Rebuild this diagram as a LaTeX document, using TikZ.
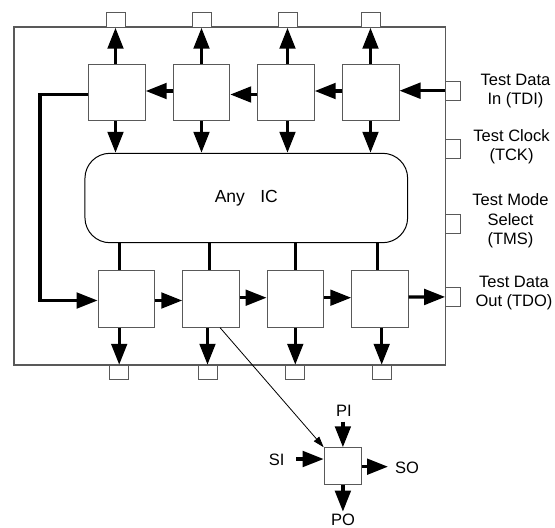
\documentclass[tikz,border=0pt]{standalone}
\usepackage{fontspec}
\setmainfont{Liberation Sans}
\usetikzlibrary{arrows.meta,calc}
\tikzset{
  cell/.style={draw=black!65, line width=0.9pt, fill=white, minimum width=56.5pt, minimum height=56.3pt, inner sep=0pt},
  pinh/.style={draw=black!65, line width=0.9pt, fill=white, minimum width=19pt, minimum height=14.5pt, inner sep=0pt},
  pinv/.style={draw=black!65, line width=0.9pt, fill=white, minimum width=14.5pt, minimum height=19pt, inner sep=0pt},
  arr/.style={line width=3.4pt, -{Triangle[length=21pt,width=15.5pt]}},
  thk/.style={line width=3.4pt},
  lbl/.style={align=center, font=\fontsize{16.5pt}{19.5pt}\selectfont, inner sep=0pt},
}
\begin{document}
\begin{tikzpicture}[x=1pt,y=-1pt]
\useasboundingbox (0,0) rectangle (555,528);
% outer chip
\draw[draw=black!65, line width=1.1pt] (14,27) rectangle (445.7,365);
% pins top
\node[pinh] (p1) at (115.5,20) {};
\node[pinh] (p2) at (201.5,20) {};
\node[pinh] (p3) at (287.5,20) {};
\node[pinh] (p4) at (370.5,20) {};
% pins bottom
\node[pinh] (q1) at (119.2,372.5) {};
\node[pinh] (q2) at (207.5,372.5) {};
\node[pinh] (q3) at (295.3,372.5) {};
\node[pinh] (q4) at (381.7,372.5) {};
% pins right
\node[pinv] (tdi) at (452.9,90.7) {};
\node[pinv] (tck) at (452.9,148.8) {};
\node[pinv] (tms) at (452.9,224.2) {};
\node[pinv] (tdo) at (452.9,296.9) {};
% top cells
\node[cell] (t1) at (117,92.5) {};
\node[cell] (t2) at (201.5,92.5) {};
\node[cell] (t3) at (286,92.5) {};
\node[cell] (t4) at (370.8,92.5) {};
% bottom cells
\node[cell] (b1) at (126.3,299) {};
\node[cell] (b2) at (211,299) {};
\node[cell] (b3) at (295.3,299) {};
\node[cell] (b4) at (380,299) {};
% IC
\node[draw=black, line width=1pt, rounded corners=25pt, minimum width=322.7pt, minimum height=89.4pt, inner sep=0pt, font=\fontsize{17.5pt}{20pt}\selectfont] (ic) at (246.3,198) {Any\hspace{0.6em} IC};
% top arrows up and down
\foreach \i in {1,2,3,4}{
  \draw[arr] (p\i.south |- t\i.north) -- (p\i.south);
  \draw[arr] (p\i.south |- t\i.south) -- (p\i.south |- ic.north);
}
% top chain (right to left)
\draw[arr] (tdi.west) -- (tdi.west -| t4.east);
\draw[arr] ($(t4.west)+(0,-1.5)$) -- ($(t3.east)+(0,-1.5)$);
\draw[arr] ($(t3.west)+(0,2)$) -- ($(t2.east)+(0,2)$);
\draw[arr] ($(t2.west)+(0,-1.5)$) -- ($(t1.east)+(0,-1.5)$);
% loop from t1 to b1
\coordinate (c1) at (40,94.7);
\coordinate (c2) at (40,300.5);
\draw[arr] ($(t1.west)+(0,2.2)$) -- (c1) -- (c2) -- (c2 -| b1.west);
% IC to bottom cells
\draw[thk] (119.3,0 |- ic.south) -- (119.3,0 |- b1.north);
\draw[thk] (209.3,0 |- ic.south) -- (209.3,0 |- b2.north);
\draw[thk] (295.7,0 |- ic.south) -- (295.7,0 |- b3.north);
\draw[thk] (377.7,0 |- ic.south) -- (377.7,0 |- b4.north);
% bottom down arrows
\foreach \i in {1,2,3,4}{
  \draw[arr] (q\i.north |- b\i.south) -- (q\i.north);
}
% bottom chain
\draw[arr] ($(b1.east)+(0,1.5)$) -- ($(b2.west)+(0,1.5)$);
\draw[arr] ($(b2.east)+(0,-1.3)$) -- ($(b3.west)+(0,-1.3)$);
\draw[arr] ($(b3.east)+(0,-1.3)$) -- ($(b4.west)+(0,-1.3)$);
\draw[arr] ($(b4.east)+(0,-2)$) -- ($(tdo.west)+(0,0)$);
% labels right
\node[lbl] (ltdi) at (515.5,91) {Test Data\\In (TDI)};
\node[lbl] (ltck) at (511.5,146.5) {Test Clock\\(TCK)};
\node[lbl] (ltms) at (510.5,221) {Test Mode\\Select\\(TMS)};
\node[lbl] (ltdo) at (514,293) {Test Data\\Out (TDO)};
% detail cell
\node[cell, minimum width=37.5pt, minimum height=36.6pt] (c) at (342.9,466) {};
\coordinate (d0) at ($(b2.south)+(9,0)$);
\draw[line width=0.8pt, -{Triangle[length=11pt,width=7pt]}] (d0) -- (c.north west);
\node[lbl] (lpi) at (344,411) {PI};
\node[lbl] (lsi) at (276.7,459.5) {SI};
\node[lbl] (lso) at (407,467.5) {SO};
\node[lbl] (lpo) at (343,520) {PO};
\coordinate (pi0) at (342.9,421.5);
\coordinate (si0) at (296,459);
\coordinate (so1) at (388,466.7);
\coordinate (po1) at (342.9,511.7);
\draw[arr] (pi0) -- (pi0 |- c.north);
\draw[arr] (si0) -- (si0 -| c.west);
\draw[arr] (so1 -| c.east) -- (so1);
\draw[arr] (po1 |- c.south) -- (po1);
\end{tikzpicture}
\end{document}
